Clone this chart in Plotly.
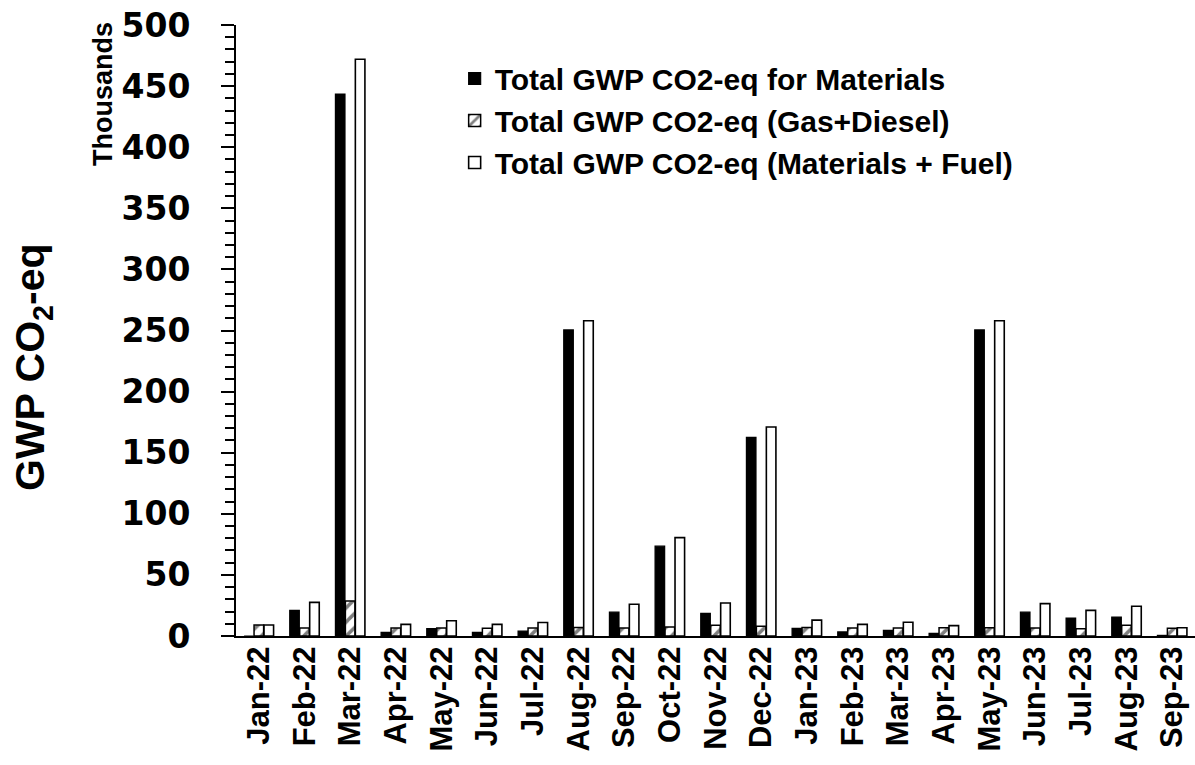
import plotly.graph_objects as go

months = ["Jan-22", "Feb-22", "Mar-22", "Apr-22", "May-22", "Jun-22", "Jul-22",
          "Aug-22", "Sep-22", "Oct-22", "Nov-22", "Dec-22", "Jan-23", "Feb-23",
          "Mar-23", "Apr-23", "May-23", "Jun-23", "Jul-23", "Aug-23", "Sep-23"]

materials = [0, 21, 443.5, 3, 6, 3, 4, 250.5, 19.5, 73.5, 18.5, 162.5, 6.3, 3.3,
             4.6, 2.2, 250.5, 19.5, 14.7, 15.5, 0.5]
gas_diesel = [9, 6.5, 28.6, 6.5, 6.5, 6.3, 6.5, 7, 6.5, 7.4, 8.7, 8, 7, 6.5,
              6.5, 6.8, 6.8, 6.5, 6, 8.7, 6.3]
total = [9, 27.5, 472, 9.5, 12.5, 9.5, 11, 258, 26, 80.5, 27, 171, 13, 9.5,
         11.2, 8.5, 258, 26.5, 21, 24.3, 6.8]

names = ["Total GWP CO2-eq for Materials",
         "Total GWP CO2-eq (Gas+Diesel)",
         "Total GWP CO2-eq (Materials + Fuel)"]

ARIAL = "Arial"

fig = go.Figure()
fig.add_trace(go.Bar(x=months, y=materials, name=names[0],
                     marker=dict(color="black", line=dict(color="black", width=1.2))))
fig.add_trace(go.Bar(x=months, y=gas_diesel, name=names[1],
                     marker=dict(color="white", line=dict(color="black", width=1.5),
                                 pattern=dict(shape="/", fgcolor="black", bgcolor="white",
                                              size=10, solidity=0.35))))
fig.add_trace(go.Bar(x=months, y=total, name=names[2],
                     marker=dict(color="white", line=dict(color="black", width=1.6))))

fig.update_layout(
    width=1195, height=765, autosize=False,
    margin=dict(l=236, r=0, t=25, b=129, pad=0),
    paper_bgcolor="white", plot_bgcolor="white",
    barmode="group", bargap=0.345, bargroupgap=0.04,
    font=dict(family=ARIAL, color="black"),
    showlegend=True,
    legend=dict(x=0.228, y=0.955, xanchor="left", yanchor="top",
                bgcolor="rgba(0,0,0,0)",
                font=dict(family=ARIAL, size=30, color="black", weight="bold"),
                tracegroupgap=0, itemwidth=30),
)

fig.update_xaxes(
    showline=True, linecolor="black", linewidth=2,
    ticks="", tickangle=-90,
    tickfont=dict(family=ARIAL, size=31, color="black", weight="bold"),
    ticklabelstandoff=-4,
    showgrid=False, zeroline=False,
)

fig.update_yaxes(
    range=[0, 500], dtick=50, tick0=0,
    showline=True, linecolor="black", linewidth=2,
    ticks="outside", ticklen=13, tickwidth=2, tickcolor="black",
    minor=dict(dtick=10, ticks="outside", ticklen=9, tickwidth=1.5, tickcolor="black",
               showgrid=False),
    tickfont=dict(family="DejaVu Sans", size=33, color="black", weight="bold"),
    ticklabelstandoff=24,
    showgrid=False, zeroline=False,
)

fig.add_annotation(text="<b>GWP CO<sub>2</sub>-eq</b>", xref="paper", yref="paper",
                   x=(33 - 236) / 959, y=(636 - 367) / 611,
                   xanchor="center", yanchor="middle", textangle=-90, showarrow=False,
                   font=dict(family=ARIAL, size=41, color="black"))
fig.add_annotation(text="<b>Thousands</b>", xref="paper", yref="paper",
                   x=(103 - 236) / 959, y=(636 - 94) / 611,
                   xanchor="center", yanchor="middle", textangle=-90, showarrow=False,
                   font=dict(family=ARIAL, size=27, color="black"))

fig.write_html("out.html")
